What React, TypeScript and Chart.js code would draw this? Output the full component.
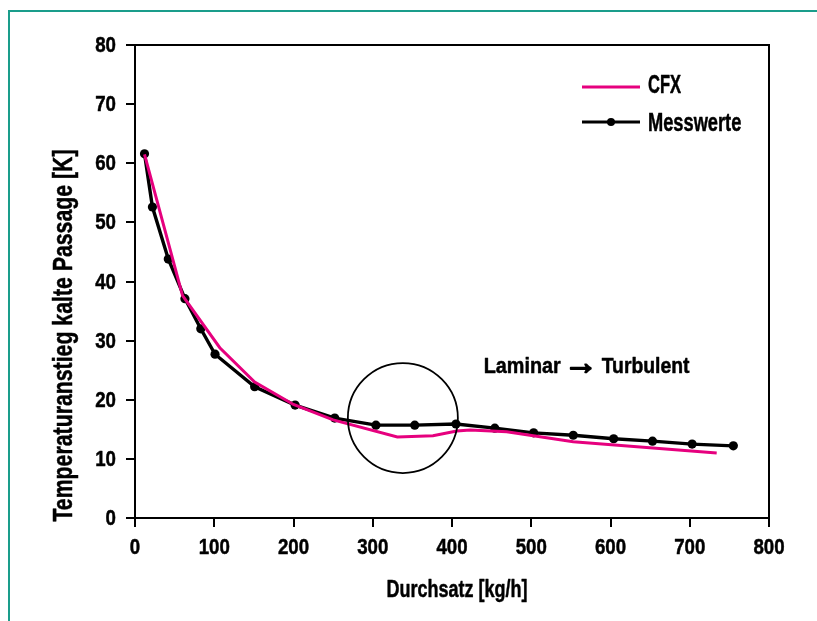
import React, { useEffect, useRef } from "react";
import { Chart, registerables } from "chart.js";

Chart.register(...registerables);

const FONT = "'Liberation Sans', Arial, sans-serif";

const xTicksMin = 0;
const xTicksMax = 800;
const xStep = 100;
const yTicksMin = 0;
const yTicksMax = 80;
const yStep = 10;

const measX = [12, 22, 42, 63, 83, 101, 151, 202, 252, 304, 353, 405, 454, 503, 553, 604, 653, 703, 755];
const measY = [61.6, 52.6, 43.8, 37.1, 32.0, 27.7, 22.2, 19.1, 16.9, 15.7, 15.7, 15.9, 15.2, 14.4, 14.0, 13.4, 13.0, 12.5, 12.2];

const cfxX = [12, 60, 107, 151, 200, 250, 331, 376, 406, 423, 469, 553, 734];
const cfxY = [61.5, 37.6, 28.8, 23.0, 19.2, 16.6, 13.7, 13.9, 14.7, 14.9, 14.6, 12.9, 11.0];

const circleCenter = { x: 338, y: 16.9 };
const circleRadius = 55;

const annotationLeft = "Laminar";
const annotationArrow = "\u2192";
const annotationRight = "Turbulent";
const annotationPos = { x: 440, y: 24.5 };

const seriesNames = ["CFX", "Messwerte"];
const xTitle = "Durchsatz [kg/h]";
const yTitle = "Temperaturanstieg kalte Passage [K]";

const PINK = "#e6007e";
const BLACK = "#000000";

function drawText(
  ctx: CanvasRenderingContext2D,
  text: string,
  x: number,
  y: number,
  size: number,
  sx: number,
  align: "left" | "center" | "right",
  rotate = 0,
  stroke = 0.5
) {
  ctx.save();
  ctx.translate(x, y);
  if (rotate) ctx.rotate(rotate);
  ctx.scale(sx, 1);
  ctx.font = `bold ${size}px ${FONT}`;
  ctx.textAlign = align;
  ctx.textBaseline = "alphabetic";
  ctx.fillStyle = BLACK;
  ctx.fillText(text, 0, 0);
  if (stroke) {
    ctx.strokeStyle = BLACK;
    ctx.lineWidth = stroke;
    ctx.lineJoin = "round";
    ctx.strokeText(text, 0, 0);
  }
  ctx.restore();
}

export default function App() {
  const canvasRef = useRef<HTMLCanvasElement | null>(null);

  useEffect(() => {
    document.body.style.margin = "0";
    const canvas = canvasRef.current;
    if (!canvas) return;

    const framePlugin = {
      id: "framePlugin",
      afterDatasetsDraw(chart: any) {
        const { ctx } = chart;
        const xs = chart.scales.x;
        const ys = chart.scales.y;
        ctx.save();
        ctx.strokeStyle = BLACK;
        ctx.lineWidth = 1.8;
        ctx.beginPath();
        ctx.arc(xs.getPixelForValue(circleCenter.x), ys.getPixelForValue(circleCenter.y), circleRadius, 0, Math.PI * 2);
        ctx.stroke();
        ctx.restore();
      },
      afterDraw(chart: any) {
        const { ctx, chartArea } = chart;
        const { left, right, top, bottom } = chartArea;
        const xs = chart.scales.x;
        const ys = chart.scales.y;
        ctx.save();
        ctx.strokeStyle = BLACK;
        ctx.lineWidth = 2;
        ctx.beginPath();
        ctx.moveTo(left, top);
        ctx.lineTo(right, top);
        ctx.lineTo(right, bottom);
        ctx.stroke();
        ctx.restore();

        // tick labels
        ys.ticks.forEach((t: any) => {
          const py = ys.getPixelForValue(t.value);
          drawText(ctx, String(t.value), left - 19, py + 7, 22, 0.85, "right");
        });
        xs.ticks.forEach((t: any) => {
          const px = xs.getPixelForValue(t.value);
          drawText(ctx, String(t.value), px, bottom + 36, 22, 0.85, "center");
        });

        // axis titles
        drawText(ctx, xTitle, (left + right) / 2 + 5, bottom + 79, 24, 0.75, "center");
        drawText(ctx, yTitle, left - 63, (top + bottom) / 2 + 54, 28, 0.76, "center", -Math.PI / 2);

        // annotation
        const ax = xs.getPixelForValue(annotationPos.x);
        const ay = ys.getPixelForValue(annotationPos.y);
        drawText(ctx, annotationLeft, ax, ay, 22, 0.9, "left");
        drawText(ctx, annotationArrow, ax + 97, ay + 1, 34, 1.0, "center", 0, 1.8);
        drawText(ctx, annotationRight, ax + 118, ay, 22, 0.88, "left");

        // legend
        const lx0 = right - 187;
        const lx1 = right - 129;
        const ly0 = top + 42;
        const ly1 = top + 77;
        ctx.save();
        ctx.lineWidth = 3;
        ctx.strokeStyle = PINK;
        ctx.beginPath();
        ctx.moveTo(lx0, ly0);
        ctx.lineTo(lx1, ly0);
        ctx.stroke();
        ctx.strokeStyle = BLACK;
        ctx.fillStyle = BLACK;
        ctx.beginPath();
        ctx.moveTo(lx0, ly1);
        ctx.lineTo(lx1, ly1);
        ctx.stroke();
        ctx.beginPath();
        ctx.arc((lx0 + lx1) / 2, ly1, 4, 0, Math.PI * 2);
        ctx.fill();
        ctx.restore();
        drawText(ctx, seriesNames[0], right - 121, ly0 + 6, 25, 0.66, "left");
        drawText(ctx, seriesNames[1], right - 121, ly1 + 9, 25, 0.73, "left");
      },
    };

    const chart = new Chart(canvas, {
      type: "line",
      data: {
        datasets: [
          {
            type: "line",
            label: seriesNames[0],
            data: cfxX.map((x, i) => ({ x, y: cfxY[i] })),
            borderColor: PINK,
            borderWidth: 3,
            pointRadius: 0,
            tension: 0,
            fill: false,
          },
          {
            type: "line",
            label: seriesNames[1],
            data: measX.map((x, i) => ({ x, y: measY[i] })),
            borderColor: BLACK,
            backgroundColor: BLACK,
            borderWidth: 3.4,
            pointRadius: 4.6,
            pointBackgroundColor: BLACK,
            pointBorderWidth: 0,
            tension: 0,
            fill: false,
          },
        ],
      },
      options: {
        animation: false,
        responsive: false,
        maintainAspectRatio: false,
        events: [],
        layout: { padding: { left: 10, top: 45, right: 48, bottom: 10 } },
        plugins: {
          legend: { display: false },
          tooltip: { enabled: false },
        },
        scales: {
          x: {
            type: "linear",
            min: xTicksMin,
            max: xTicksMax,
            afterFit(scale: any) {
              scale.height = 93;
            },
            ticks: { stepSize: xStep, display: false },
            grid: {
              drawOnChartArea: false,
              drawTicks: true,
              tickLength: 9,
              color: BLACK,
              lineWidth: 2,
            },
            border: { color: BLACK, width: 2 },
            title: { display: false },
          },
          y: {
            type: "linear",
            min: yTicksMin,
            max: yTicksMax,
            afterFit(scale: any) {
              scale.width = 125;
            },
            ticks: { stepSize: yStep, display: false },
            grid: {
              drawOnChartArea: false,
              drawTicks: true,
              tickLength: 9,
              color: BLACK,
              lineWidth: 2,
            },
            border: { color: BLACK, width: 2 },
            title: { display: false },
          },
        },
      },
      plugins: [framePlugin],
    });

    return () => chart.destroy();
  }, []);

  return (
    <div style={{ position: "relative", width: 817, height: 621, background: "#fff", overflow: "hidden" }}>
      <canvas ref={canvasRef} width={817} height={621} style={{ position: "absolute", left: 0, top: 0, width: 817, height: 621 }} />
      <div
        style={{
          position: "absolute",
          left: 8,
          top: 10,
          width: 817,
          height: 621,
          borderTop: "2px solid #1a9d8b",
          borderLeft: "2px solid #1a9d8b",
          pointerEvents: "none",
        }}
      />
    </div>
  );
}
